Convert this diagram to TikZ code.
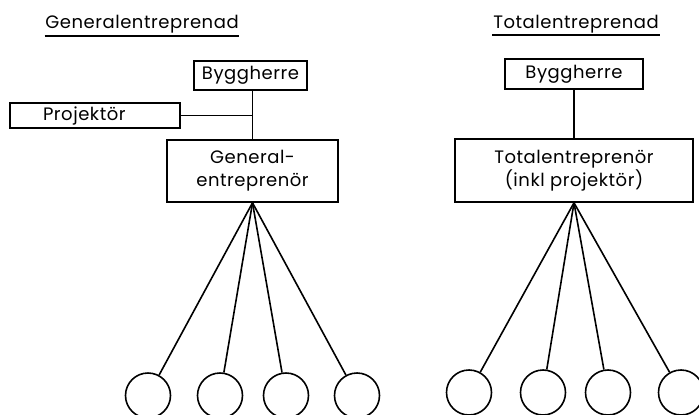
\documentclass[tikz,border=0pt]{standalone}
\usepackage{fontspec}
\setmainfont[LetterSpace=3]{Poppins}
\usetikzlibrary{positioning}

\begin{document}
\begin{tikzpicture}[
  x=1pt, y=-1pt,
  line width=1.6pt,
  font=\fontsize{18}{23}\selectfont,
  box/.style={rectangle, draw, inner sep=0pt, align=center},
  heading/.style={anchor=base, inner sep=0pt},
  party/.style={circle, draw, minimum size=45pt, inner sep=0pt},
  underline/.style={line width=1.2pt}
]
\useasboundingbox (0,0) rectangle (699,415);

% Generalentreprenad
\node[heading] (gtitle) at (142,28) {Generalentreprenad};
\draw[underline] ([yshift=-8pt]gtitle.base west) -- ([yshift=-8pt]gtitle.base east);

\node[box, minimum width=113pt, minimum height=29pt] (gbyg) at (250.5,75.5) {Byggherre};
\node[box, minimum height=25pt, text width=104pt, inner xsep=33pt, align=left] (proj) at (95,115.5) {Projektör};
\node[box, minimum width=171pt, minimum height=62pt] (gen) at (252.5,171) {General-\\entreprenör};

\draw (gen.north) -- (gen.north |- gbyg.south);
\draw (proj.east) -- (proj.east -| gen.north);

\foreach \cx/\n in {148/1, 220/2, 286/3, 357/4} {
  \node[party] (gsub\n) at (\cx,395.5) {};
  \draw (gen.south) -- (gsub\n);
}

% Totalentreprenad
\node[heading] (ttitle) at (576,28) {Totalentreprenad};
\draw[underline] ([yshift=-7pt]ttitle.base west) -- ([yshift=-7pt]ttitle.base east);

\node[box, minimum width=138pt, minimum height=30pt] (tbyg) at (574,74) {Byggherre};
\node[box, minimum width=238pt, minimum height=63pt] (tot) at (574,170.5) {Totalentreprenör\\(inkl projektör)};

\draw (tbyg) -- (tot);

\foreach \cx/\n in {469/1, 543/2, 608/3, 681/4} {
  \node[party] (tsub\n) at (\cx,392.5) {};
  \draw (tot.south) -- (tsub\n);
}

\end{tikzpicture}
\end{document}
